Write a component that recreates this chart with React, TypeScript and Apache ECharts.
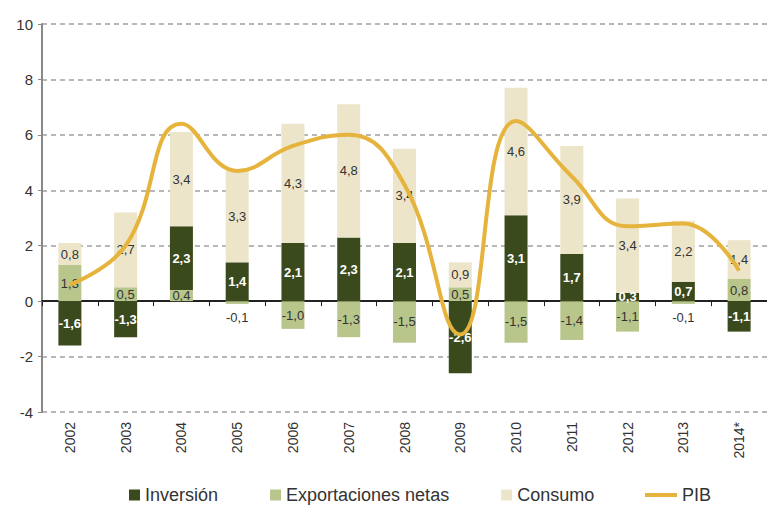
import React, { useEffect, useRef } from "react";
import * as echarts from "echarts";

const years = ["2002", "2003", "2004", "2005", "2006", "2007", "2008", "2009", "2010", "2011", "2012", "2013", "2014*"];
const inversion = [-1.6, -1.3, 2.3, 1.4, 2.1, 2.3, 2.1, -2.6, 3.1, 1.7, 0.3, 0.7, -1.1];
const exportaciones = [1.3, 0.5, 0.4, -0.1, -1.0, -1.3, -1.5, 0.5, -1.5, -1.4, -1.1, -0.1, 0.8];
const consumo = [0.8, 2.7, 3.4, 3.3, 4.3, 4.8, 3.4, 0.9, 4.6, 3.9, 3.4, 2.2, 1.4];
const pib = [0.6, 2.0, 6.4, 4.7, 5.6, 6.0, 4.2, -1.2, 6.5, 4.5, 2.7, 2.8, 1.1];
const yTicks = { min: -4, max: 10, interval: 2 };

const C_INV = "#3b4a1d";
const C_EXP = "#b8c58b";
const C_CON = "#ede5c9";
const C_PIB = "#e6b43c";
const FONT = "'Liberation Sans', Arial, sans-serif";
const fmt = (v: number) => v.toFixed(1).replace(".", ",");

export default function App() {
  const ref = useRef<HTMLDivElement>(null);
  useEffect(() => {
    if (!ref.current) return;
    const chart = echarts.init(ref.current, undefined, { renderer: "svg" });
    const barLabel = (color: string, bold: boolean) => ({
      show: true,
      position: "inside",
      color,
      fontFamily: FONT,
      fontSize: 13,
      fontWeight: bold ? "bold" : "normal",
      formatter: (p: any) => fmt(Number(p.value)),
    });
    const smallNeg = (arr: number[]) =>
      arr.map((v) => (v < 0 && v > -0.2 ? { value: v, label: { offset: [0, 15] } } : v));
    chart.setOption({
      animation: false,
      backgroundColor: "#ffffff",
      grid: { left: 42, right: -13, top: 24, bottom: 99, containLabel: false },
      legend: [
        {
          data: ["Inversión", "Exportaciones netas", "Consumo"],
          left: 124,
          top: 481,
          icon: "rect",
          itemWidth: 11,
          itemHeight: 11,
          itemGap: 52,
          textStyle: { fontFamily: FONT, fontSize: 18, color: "#333" },
        },
        {
          data: [{ name: "PIB", icon: "rect" }],
          left: 640,
          top: 481,
          itemWidth: 32,
          itemHeight: 4,
          textStyle: { fontFamily: FONT, fontSize: 18, color: "#333" },
        },
      ],
      xAxis: [
        {
          type: "category",
          data: years,
          position: "bottom",
          axisLine: { show: false, onZero: false },
          axisTick: { show: false },
          axisLabel: {
            rotate: 90,
            margin: 10,
            fontFamily: FONT,
            fontSize: 14,
            color: "#333",
          },
        },
        {
          type: "category",
          data: years,
          position: "bottom",
          axisLine: { show: true, onZero: true, lineStyle: { color: "#222", width: 2 } },
          axisTick: { show: true, length: 5, lineStyle: { color: "#222", width: 1 } },
          axisLabel: { show: false },
        },
      ],
      yAxis: {
        type: "value",
        min: yTicks.min,
        max: yTicks.max,
        interval: yTicks.interval,
        axisLine: { show: true, lineStyle: { color: "#888", width: 2 } },
        axisTick: { show: true, length: 4, lineStyle: { color: "#888" } },
        axisLabel: { fontFamily: FONT, fontSize: 15, color: "#333", margin: 9 },
        splitLine: { show: true, lineStyle: { color: "#a0a0a0", width: 1.5, type: [5, 4] } },
      },
      series: [
        {
          name: "Exportaciones netas",
          type: "bar",
          stack: "total",
          barWidth: 23,
          data: smallNeg(exportaciones),
          itemStyle: { color: C_EXP },
          label: barLabel("#333", false),
        },
        {
          name: "Inversión",
          type: "bar",
          stack: "total",
          barWidth: 23,
          data: inversion,
          itemStyle: { color: C_INV },
          label: barLabel("#ffffff", true),
        },
        {
          name: "Consumo",
          type: "bar",
          stack: "total",
          barWidth: 23,
          data: consumo,
          itemStyle: { color: C_CON },
          label: barLabel("#333", false),
        },
        {
          name: "PIB",
          type: "line",
          data: pib,
          smooth: 0.45,
          symbol: "none",
          z: 5,
          lineStyle: { color: C_PIB, width: 4 },
          itemStyle: { color: C_PIB },
        },
      ],
    });
    return () => chart.dispose();
  }, []);
  return (
    <div
      ref={ref}
      style={{ position: "absolute", left: 0, top: 0, width: 767, height: 511 }}
    />
  );
}
